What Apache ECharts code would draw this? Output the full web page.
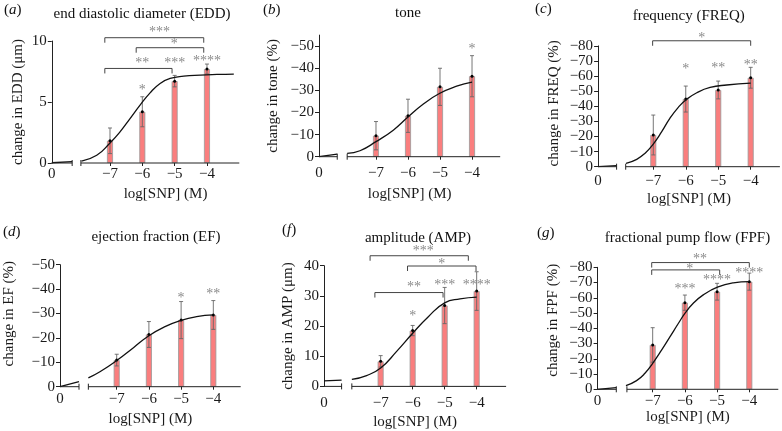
<!DOCTYPE html>
<html><head><meta charset="utf-8">
<script src="https://cdn.jsdelivr.net/npm/echarts@6/dist/echarts.min.js"></script>
<style>html,body{margin:0;padding:0;background:#fff}#c{width:782px;height:431px}</style>
</head><body><div id="c"></div>
<script>
// ---------- data ----------
const doses = [-7, -6, -5, -4];

// (a) EDD
const eddMean = [1.82, 4.2, 6.71, 7.7];
const eddErr = [1.05, 1.23, 0.47, 0.41];
const eddCurveX = [-7.88, -7.41, -7.0, -6.69, -6.38, -6.07, -5.76, -5.45, -5.14, -4.72, -4.21, -3.69, -3.17];
const eddCurveY = [0.16, 0.63, 1.64, 2.55, 3.64, 4.74, 5.75, 6.52, 6.93, 7.12, 7.21, 7.26, 7.29];
const eddLeftX = [-8.8, -8.17];
const eddLeftY = [0.02, 0.12];
const eddStarX = [-6, -5, -4];
const eddStarY = [6.19, 8.44, 8.58];
const eddStarText = ['*', '***', '****'];
const eddBrX1 = [-7.16, -6.19, -7.16];
const eddBrX2 = [-4.1, -4.1, -5.08];
const eddBrY = [10.27, 9.45, 7.75];
const eddBrTX = [-5.47, -5.01, -6.0];
const eddBrTY = [10.96, 9.95, 8.44];
const eddBrText = ['***', '*', '**'];
const eddTicks = [0, 5, 10];

// (b) tone
const toneMean = [-9.5, -18.5, -31.6, -36.4];
const toneErr = [6.4, 7.5, 8.4, 9.3];
const toneCurveX = [-7.9, -7.5, -7.0, -6.46, -6.01, -5.52, -5.02, -4.48, -4.0];
const toneCurveY = [-1.5, -2.7, -6.8, -12.0, -17.8, -23.8, -28.6, -31.9, -33.7];
const toneLeftX = [-8.78, -8.21];
const toneLeftY = [0, -1.2];
const toneStarX = [-4];
const toneStarY = [-49.7];
const toneStarText = ['*'];
const toneTicks = [0, -10, -20, -30, -40, -50];

// (c) FREQ
const freqMean = [-21.0, -44.8, -50.8, -58.9];
const freqErr = [13.2, 8.6, 5.9, 6.9];
const freqCurveX = [-7.84, -7.51, -7.26, -7.0, -6.74, -6.49, -6.23, -6.0, -5.66, -5.25, -4.74, -4.0];
const freqCurveY = [-2.2, -4.9, -8.8, -15.0, -23.2, -32.0, -39.3, -44.2, -49.0, -52.5, -54.1, -55.3];
const freqLeftX = [-8.7, -8.13];
const freqLeftY = [0, -0.7];
const freqStarX = [-6, -5, -4];
const freqStarY = [-66.7, -67.3, -68.9];
const freqStarText = ['*', '**', '**'];
const freqBrX1 = [-7.02];
const freqBrX2 = [-4.0];
const freqBrY = [-83.4];
const freqBrTX = [-5.51];
const freqBrTY = [-87.2];
const freqBrText = ['*'];
const freqTicks = [0, -10, -20, -30, -40, -50, -60, -70, -80];

// (d) EF
const efMean = [-10.9, -21.4, -27.3, -29.4];
const efErr = [2.4, 5.3, 7.6, 5.9];
const efCurveX = [-7.88, -7.52, -7.0, -6.48, -6.0, -5.5, -5.0, -4.52, -4.0];
const efCurveY = [-3.6, -6.1, -10.7, -16.0, -20.9, -24.6, -27.2, -28.7, -29.4];
const efLeftX = [-8.76, -8.17];
const efLeftY = [0, -2.1];
const efStarX = [-5, -4];
const efStarY = [-37.6, -38.9];
const efStarText = ['*', '**'];
const efTicks = [0, -10, -20, -30, -40, -50];

// (f) AMP
const ampMean = [8.3, 18.5, 26.8, 31.6];
const ampErr = [1.9, 1.7, 6.0, 6.4];
const ampCurveX = [-7.9, -7.44, -7.0, -6.5, -6.0, -5.51, -5.0, -4.52, -4.0];
const ampCurveY = [2.3, 3.6, 6.1, 11.6, 17.6, 23.1, 27.7, 29.0, 29.6];
const ampLeftX = [-8.77, -8.22];
const ampLeftY = [1.85, 2.1];
const ampStarX = [-6, -5, -4];
const ampStarY = [24.2, 34.4, 34.4];
const ampStarText = ['*', '***', '****'];
const ampBrX1 = [-7.33, -6.16, -7.18];
const ampBrX2 = [-4.26, -4.02, -5.05];
const ampBrY = [43.3, 39.9, 31.1];
const ampBrTX = [-5.67, -5.09, -5.96];
const ampBrTY = [45.7, 41.3, 33.8];
const ampBrText = ['***', '*', '**'];
const ampTicks = [0, 10, 20, 30, 40];

// (g) FPF
const fpfMean = [-29.1, -56.8, -64.0, -70.6];
const fpfErr = [11.3, 5.0, 5.5, 5.6];
const fpfCurveX = [-7.83, -7.5, -7.24, -7.0, -6.72, -6.46, -6.2, -6.0, -5.74, -5.43, -4.99, -4.5, -4.0];
const fpfCurveY = [-2.4, -5.7, -10.5, -17.0, -25.8, -34.5, -43.3, -49.8, -56.4, -61.9, -67.0, -69.8, -70.6];
const fpfLeftX = [-8.71, -8.13];
const fpfLeftY = [0, -1.1];
const fpfStarX = [-6, -5, -4];
const fpfStarY = [-67.8, -73.2, -78.3];
const fpfStarText = ['***', '****', '****'];
const fpfBrX1 = [-7.03, -7.03];
const fpfBrX2 = [-4.0, -4.92];
const fpfBrY = [-83.1, -78.3];
const fpfBrTX = [-5.53, -5.85];
const fpfBrTY = [-87.0, -80.9];
const fpfBrText = ['**', '*'];
const fpfTicks = [0, -10, -20, -30, -40, -50, -60, -70, -80];

const titles = ['end diastolic diameter (EDD)', 'tone', 'frequency (FREQ)', 'ejection fraction (EF)', 'amplitude (AMP)', 'fractional pump flow (FPF)'];
const letters = ['a', 'b', 'c', 'd', 'f', 'g'];
const yNames = ['change in EDD (μm)', 'change in tone (%)', 'change in FREQ (%)', 'change in EF (%)', 'change in AMP (μm)', 'change in FPF (%)'];
const xName = 'log[SNP] (M)';

// ---------- layout ----------
const FONT = 'Liberation Serif';
const FS = 15;
const TXT = '#1a1a1a';
const panels = [
  {left:51.8, width:187.5, top:41, height:122, xMin:-8.8, xMax:-3.0, yMin:0, yMax:10, inv:false, brk:[-8.17,-7.9],
   tX:142, tY:14, lX:4, lY:10, yGap:26, yPad:0, xGap:24, xPad:[0,0,0,40], xMar:4,
   mean:eddMean, err:eddErr, cx:eddCurveX, cy:eddCurveY, lx:eddLeftX, ly:eddLeftY, sx:eddStarX, sy:eddStarY, st:eddStarText,
   b1:eddBrX1, b2:eddBrX2, by:eddBrY, btx:eddBrTX, bty:eddBrTY, bt:eddBrText, ticks:eddTicks},
  {left:319, width:181.2, top:35.1, height:121.6, xMin:-8.78, xMax:-3.12, yMin:-55, yMax:0, inv:true, brk:[-8.21,-7.9],
   tX:408, tY:13, lX:263, lY:10, yGap:38, yPad:0, xGap:30, xPad:0, xMar:9,
   mean:toneMean, err:toneErr, cx:toneCurveX, cy:toneCurveY, lx:toneLeftX, ly:toneLeftY, sx:toneStarX, sy:toneStarY, st:toneStarText,
   b1:[], b2:[], by:[], btx:[], bty:[], bt:[], ticks:toneTicks},
  {left:598.1, width:181.8, top:45.9, height:120.8, xMin:-8.7, xMax:-3.1, yMin:-80, yMax:0, inv:true, brk:[-8.13,-7.85],
   tX:688.7, tY:16, lX:535, lY:9, yGap:37, yPad:6, xGap:25, xPad:0, xMar:7,
   mean:freqMean, err:freqErr, cx:freqCurveX, cy:freqCurveY, lx:freqLeftX, ly:freqLeftY, sx:freqStarX, sy:freqStarY, st:freqStarText,
   b1:freqBrX1, b2:freqBrX2, by:freqBrY, btx:freqBrTX, bty:freqBrTY, bt:freqBrText, ticks:freqTicks},
  {left:60, width:180.7, top:264.7, height:122, xMin:-8.76, xMax:-3.15, yMin:-50, yMax:0, inv:true, brk:[-8.17,-7.88],
   tX:156, tY:236.7, lX:3, lY:232.5, yGap:43, yPad:24, xGap:25, xPad:0, xMar:5,
   mean:efMean, err:efErr, cx:efCurveX, cy:efCurveY, lx:efLeftX, ly:efLeftY, sx:efStarX, sy:efStarY, st:efStarText,
   b1:[], b2:[], by:[], btx:[], bty:[], bt:[], ticks:efTicks},
  {left:324, width:182.1, top:265.7, height:121, xMin:-8.77, xMax:-3.08, yMin:0, yMax:40, inv:false, brk:[-8.22,-7.9],
   tX:418, tY:238.3, lX:282, lY:230, yGap:28, yPad:0, xGap:28.6, xPad:0, xMar:9,
   mean:ampMean, err:ampErr, cx:ampCurveX, cy:ampCurveY, lx:ampLeftX, ly:ampLeftY, sx:ampStarX, sy:ampStarY, st:ampStarText,
   b1:ampBrX1, b2:ampBrX2, by:ampBrY, btx:ampBrTX, bty:ampBrTY, bt:ampBrText, ticks:ampTicks},
  {left:597.6, width:180.7, top:267.3, height:122, xMin:-8.71, xMax:-3.1, yMin:-80, yMax:0, inv:true, brk:[-8.13,-7.8],
   tX:687.5, tY:237.7, lX:537, lY:233, yGap:36.6, yPad:16, xGap:19.4, xPad:0, xMar:4,
   mean:fpfMean, err:fpfErr, cx:fpfCurveX, cy:fpfCurveY, lx:fpfLeftX, ly:fpfLeftY, sx:fpfStarX, sy:fpfStarY, st:fpfStarText,
   b1:fpfBrX1, b2:fpfBrX2, by:fpfBrY, btx:fpfBrTX, bty:fpfBrTY, bt:fpfBrText, ticks:fpfTicks}
];

const minus = v => (v < 0 ? '\u2212' + Math.abs(v) : String(v));
const option = {animation:false, backgroundColor:'#fff', title:[], grid:[], xAxis:[], yAxis:[], series:[]};

panels.forEach((P, k) => {
  option.title.push({text:titles[k], left:P.tX, top:P.tY - 9, textAlign:'center', padding:0,
    textStyle:{fontFamily:FONT, fontSize:FS, fontWeight:'normal', color:'#111', lineHeight:18}});
  option.title.push({text:'{p|(}{i|' + letters[k] + '}{p|)}', left:P.lX, top:P.lY - 9, padding:0,
    textStyle:{fontWeight:'normal', fontFamily:FONT, fontSize:FS,
      rich:{p:{fontFamily:FONT, fontSize:FS, fontWeight:'normal', color:'#111', lineHeight:18},
            i:{fontFamily:FONT, fontSize:FS, fontWeight:'normal', fontStyle:'italic', color:'#111', lineHeight:18}}}});
  option.grid.push({left:P.left, top:P.top, width:P.width, height:P.height, containLabel:false});
  option.xAxis.push({type:'value', gridIndex:k, min:P.xMin, max:P.xMax, position:'bottom',
    name:xName, nameLocation:'middle', nameGap:P.xGap,
    nameTextStyle:{fontFamily:FONT, fontSize:FS, color:TXT, padding:P.xPad},
    axisLine:{show:false, onZero:false},
    axisTick:{show:true, length:3, customValues:doses, lineStyle:{color:'#222'}},
    splitLine:{show:false},
    axisLabel:{customValues:[P.xMin].concat(doses), showMinLabel:true, showMaxLabel:true, margin:P.xMar,
      fontFamily:FONT, fontSize:FS, color:TXT,
      formatter:v => (Math.abs(v - P.xMin) < 0.01 ? '0' : minus(v))}});
  option.yAxis.push({type:'value', gridIndex:k, min:P.yMin, max:P.yMax, inverse:P.inv,
    name:yNames[k], nameLocation:'middle', nameGap:P.yGap,
    nameTextStyle:{fontFamily:FONT, fontSize:FS, color:TXT, padding:[0,0,0,P.yPad]},
    axisLine:{show:true, onZero:false, lineStyle:{color:'#222', width:1}},
    axisTick:{show:true, length:4, customValues:P.ticks, lineStyle:{color:'#222'}},
    axisLabel:{customValues:P.ticks, showMinLabel:true, showMaxLabel:true, margin:5, fontFamily:FONT, fontSize:FS, color:TXT, formatter:minus},
    splitLine:{show:false}});

  // broken x axis line
  option.series.push({type:'custom', xAxisIndex:k, yAxisIndex:k, clip:false, z:5, silent:true,
    data:[[P.xMin, 0, P.brk[0]], [P.brk[1], 0, P.xMax]],
    renderItem(params, api) {
      const a = api.coord([api.value(0), 0]);
      const b = api.coord([api.value(2), 0]);
      const mx = params.dataIndex === 0 ? b[0] : a[0];
      const st = {stroke:'#222', lineWidth:1};
      return {type:'group', children:[
        {type:'line', shape:{x1:a[0], y1:a[1], x2:b[0], y2:b[1]}, style:st},
        {type:'line', shape:{x1:mx, y1:a[1] - 3, x2:mx, y2:a[1] + 3}, style:st}
      ]};
    }});
  // bars
  option.series.push({type:'bar', xAxisIndex:k, yAxisIndex:k, barWidth:6, z:2,
    data:doses.map((d, i) => [d, P.mean[i]]),
    itemStyle:{color:'#FA7E7E', borderColor:'#999', borderWidth:0.8}});
  // error bars + mean dot
  option.series.push({type:'custom', xAxisIndex:k, yAxisIndex:k, clip:false, z:3,
    data:doses.map((d, i) => [d, P.mean[i], P.err[i]]),
    renderItem(params, api) {
      const x = api.value(0), m = api.value(1), e = api.value(2);
      const lo = api.coord([x, m - e]), hi = api.coord([x, m + e]), c = api.coord([x, m]);
      const st = {stroke:'#666', lineWidth:0.9};
      return {type:'group', children:[
        {type:'line', shape:{x1:lo[0], y1:lo[1], x2:hi[0], y2:hi[1]}, style:st},
        {type:'line', shape:{x1:lo[0] - 2, y1:lo[1], x2:lo[0] + 2, y2:lo[1]}, style:st},
        {type:'line', shape:{x1:hi[0] - 2, y1:hi[1], x2:hi[0] + 2, y2:hi[1]}, style:st},
        {type:'circle', shape:{cx:c[0], cy:c[1], r:1.5}, style:{fill:'#000'}}
      ]};
    }});
  // fitted curve
  option.series.push({type:'line', xAxisIndex:k, yAxisIndex:k, z:4, smooth:true, showSymbol:false, symbol:'none',
    data:P.cx.map((x, i) => [x, P.cy[i]]), lineStyle:{color:'#111', width:1.3}});
  option.series.push({type:'line', xAxisIndex:k, yAxisIndex:k, z:4, showSymbol:false, symbol:'none',
    data:P.lx.map((x, i) => [x, P.ly[i]]), lineStyle:{color:'#111', width:1.3}});
  // stars
  option.series.push({type:'custom', xAxisIndex:k, yAxisIndex:k, clip:false, z:6,
    data:P.sx.map((x, i) => [x, P.sy[i]]),
    renderItem(params, api) {
      const p = api.coord([api.value(0), api.value(1)]);
      return {type:'text', x:p[0], y:p[1] + 3, style:{text:P.st[params.dataIndex], fill:'#8a8a8a',
        font:'14px "Liberation Serif"', align:'center', verticalAlign:'middle'}};
    }});
  // brackets
  option.series.push({type:'custom', xAxisIndex:k, yAxisIndex:k, clip:false, z:6,
    data:P.b1.map((x, i) => [x, P.by[i]]),
    renderItem(params, api) {
      const i = params.dataIndex;
      const a = api.coord([P.b1[i], P.by[i]]), b = api.coord([P.b2[i], P.by[i]]);
      const t = api.coord([P.btx[i], P.bty[i]]);
      return {type:'group', children:[
        {type:'polyline', shape:{points:[[a[0], a[1] + 5], [a[0], a[1]], [b[0], b[1]], [b[0], b[1] + 5]]},
          style:{stroke:'#444', fill:null, lineWidth:1}},
        {type:'text', x:t[0], y:t[1] + 3, style:{text:P.bt[i], fill:'#8a8a8a', font:'14px "Liberation Serif"',
          align:'center', verticalAlign:'middle'}}
      ]};
    }});
});

const chart = echarts.init(document.getElementById('c'), null, {renderer:'canvas'});
chart.setOption(option);
</script>
</body></html>
